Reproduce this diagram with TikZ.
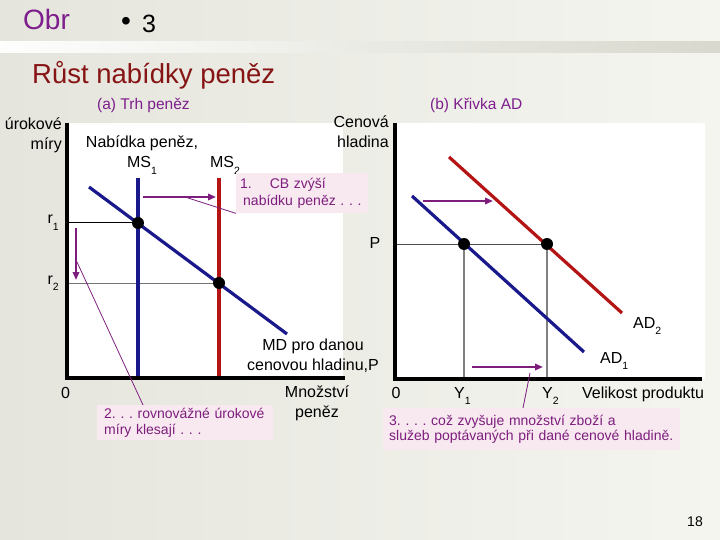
\documentclass[tikz,border=0pt]{standalone}
\usepackage{fontspec}
\setmainfont{Liberation Sans}
\usetikzlibrary{arrows.meta}
\definecolor{bgleft}{RGB}{229,229,221}
\definecolor{bgright}{RGB}{245,245,240}
\definecolor{bandgray}{RGB}{216,216,206}
\definecolor{obrpurple}{RGB}{125,30,140}
\definecolor{titlered}{RGB}{135,20,20}
\definecolor{notepurple}{RGB}{125,30,125}
\definecolor{notepink}{RGB}{248,232,240}
\definecolor{msblue}{RGB}{25,25,140}
\definecolor{msred}{RGB}{180,20,20}
\newcommand{\lowidx}[1]{\raisebox{-6pt}{\fontsize{10.5}{10.5}\selectfont #1}}
\newcommand{\fsz}[2]{\fontsize{#1}{#2}\selectfont}
\frenchspacing
\hyphenpenalty=10000

\begin{document}
\begin{tikzpicture}[x=1pt,y=-1pt,
    axis/.style={line width=3.5pt},
    curve/.style={line width=3.2pt},
    guide/.style={line width=1pt},
    eqdot/.style={circle,fill=black,inner sep=0pt,minimum size=12pt},
    push/.style={draw=notepurple,line width=1.8pt,-{Triangle[length=8pt,width=6.5pt]}},
    pointer/.style={draw=notepurple,line width=0.8pt},
    note/.style={fill=notepink,text=notepurple,align=left,inner ysep=0pt,anchor=north west,font=\fsz{14}{16}},
    lbl/.style={inner sep=0pt,font=\fsz{16}{20}},
    head/.style={inner sep=0pt,anchor=base west,text=obrpurple,font=\fsz{15.5}{18}}]
  \useasboundingbox (0,0) rectangle (720,540);
  % slide background
  \shade[left color=bgleft,right color=bgright] (0,0) rectangle (720,540);
  \shade[left color=white!95!bgleft,right color=bandgray] (0,42) rectangle (720,53);
  \fill[white] (67,123) rectangle (343,378);
  \fill[white] (395,123) rectangle (705,379);

  \node[inner sep=0pt,anchor=base west,text=obrpurple,font=\fsz{28}{30}] (obr) at (23,30) {Obr};
  \node[inner sep=0pt,font=\fsz{28}{30}] (bullet) at (126,23.5) {•};
  \node[inner sep=0pt,anchor=base west,font=\fsz{25}{28}] (num) at (142,33) {3};
  \node[inner sep=0pt,anchor=base west,text=titlered,font=\fsz{27.5}{30}] (title) at (32,83.5) {Růst nabídky peněz};
  \node[head] (heada) at (97,110) {(a) Trh peněz};
  \node[head] (headb) at (430,110) {(b) Křivka AD};

  % (a) money market
  \coordinate (O1) at (67,378);
  \coordinate (E1) at (138,223);
  \coordinate (E2) at (219,283);
  \draw[guide] (67,223) -- (E1);
  \draw[guide,black!55] (67,283) -- (E2);
  \draw[curve,msblue] (138,178) -- (138,378);
  \draw[curve,msred] (219,178) -- (219,378);
  \draw[curve,msblue] (89,187) -- (287,334);
  \draw[axis] (67,123) -- (O1) -- (345,378);
  \node[eqdot] at (E1) {};
  \node[eqdot] at (E2) {};

  \node[lbl,anchor=base east,align=right] (ylab1) at (62,150) {úrokové\\míry};
  \node[lbl,anchor=base,align=center] (mslab1) at (142,168) {Nabídka peněz,\\MS\lowidx{1}};
  \node[lbl,anchor=base] (mslab2) at (225,168) {MS\lowidx{2}};
  \node[lbl,anchor=base east] (r1lab) at (59,224) {r\lowidx{1}};
  \node[lbl,anchor=base east] (r2lab) at (59,284) {r\lowidx{2}};
  \node[lbl,anchor=base] (zero1) at (65.5,398) {0};
  \node[lbl,anchor=base,align=center] (xlab1) at (317,417) {Množství\\peněz};
  \node[lbl,anchor=base,align=center] (mdlab) at (313,370) {MD pro danou\\cenovou hladinu,P};

  \node[note,minimum width=132pt,minimum height=40pt,text width=124pt,inner xsep=4pt,font=\fsz{14}{17}] (box1) at (236,173)
    {1.\hspace{18pt}CB zvýší\\\hspace{3pt}nabídku peněz . . .};
  \node[note,minimum width=176pt,minimum height=35pt,text width=162pt,inner xsep=7pt] (box2) at (97,405)
    {2. . . rovnovážné úrokové\\míry klesají . . .};
  \coordinate (tail1) at (185,197);
  \coordinate (tail2) at (77,262);
  \draw[push] (143,197) -- (216,197);
  \draw[push] (76,228) -- (76,280);
  \draw[pointer] (tail1) -- (box1.south west);
  \draw[pointer] (tail2) -- ([xshift=46pt]box2.north west);

  % (b) AD curve
  \coordinate (O2) at (395,379);
  \coordinate (F1) at (464,244);
  \coordinate (F2) at (547,244);
  \draw[guide,black!70] (395,244) -- (F2);
  \draw[line width=1.5pt,black!50] (F1) -- (464,379);
  \draw[line width=1.5pt,black!50] (F2) -- (547,379);
  \draw[curve,msblue] (412,196) -- (584,352);
  \draw[curve,msred] (449,157) -- (622,313);
  \draw[axis] (395,123) -- (O2) -- (702,379);
  \node[eqdot] at (F1) {};
  \node[eqdot] at (F2) {};

  \node[lbl,anchor=base east,align=right] (ylab2) at (389,148) {Cenová\\hladina};
  \node[lbl,anchor=base] (plab) at (375,248) {P};
  \node[lbl,anchor=base] (zero2) at (396,398) {0};
  \node[lbl,anchor=base west] (y1lab) at (454,398) {Y\lowidx{1}};
  \node[lbl,anchor=base west] (y2lab) at (542,398) {Y\lowidx{2}};
  \node[lbl,anchor=base west] (xlab2) at (582,398) {Velikost produktu};
  \node[lbl,anchor=base west] (ad1lab) at (600,363) {AD\lowidx{1}};
  \node[lbl,anchor=base west] (ad2lab) at (633,328) {AD\lowidx{2}};

  \node[note,minimum width=297pt,minimum height=42pt,text width=285pt,inner xsep=6pt,font=\fsz{14}{15}] (box3) at (383,408)
    {3. . . . což zvyšuje množství zboží a\\služeb poptávaných při dané cenové hladině.};
  \coordinate (tail3) at (530,373);
  \draw[push] (423,201) -- (493,201);
  \draw[push] (472,367) -- (543,367);
  \draw[pointer] (tail3) -- ([xshift=140pt]box3.north west);

  \node[inner sep=0pt,anchor=base east,font=\fsz{14}{16}] (page) at (703,526) {18};
\end{tikzpicture}
\end{document}
